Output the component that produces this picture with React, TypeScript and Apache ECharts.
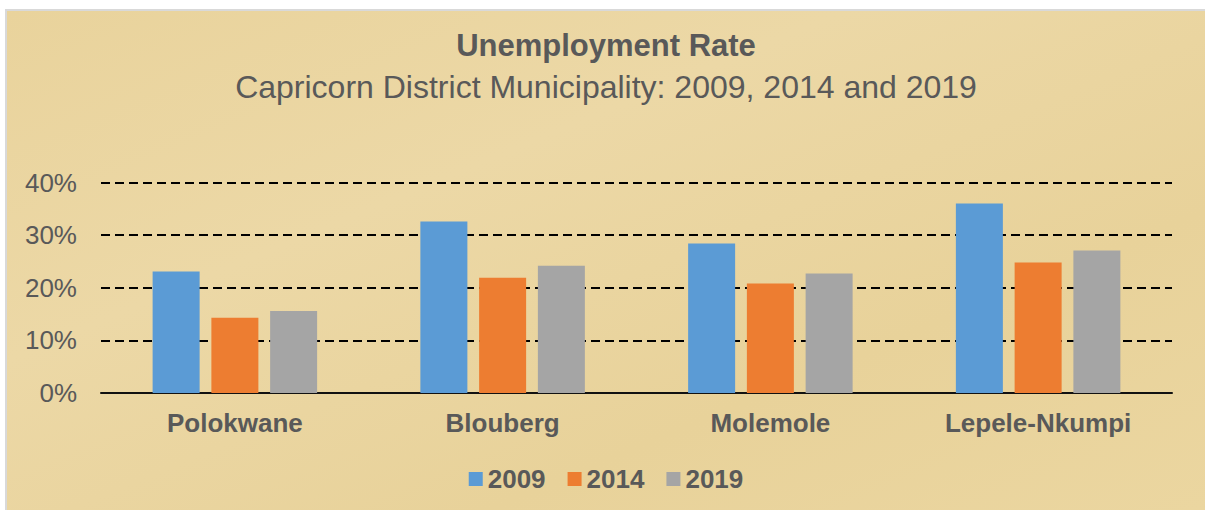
import React, { useEffect, useRef } from "react";
import * as echarts from "echarts";

const categories = ["Polokwane", "Blouberg", "Molemole", "Lepele-Nkumpi"];
const years = ["2009", "2014", "2019"];
const values2009 = [23.1, 32.6, 28.4, 36.0];
const values2014 = [14.3, 21.9, 20.8, 24.8];
const values2019 = [15.6, 24.2, 22.7, 27.1];
const yTicks = { min: 0, max: 40, interval: 10 };

const TEXT = "#595959";
const FONT = "'Liberation Sans', Arial, sans-serif";

export default function App() {
  const ref = useRef<HTMLDivElement>(null);
  useEffect(() => {
    if (!ref.current) return;
    const chart = echarts.init(ref.current, undefined, { renderer: "svg" });
    const seriesData = [values2009, values2014, values2019];
    const colors = ["#5B9BD5", "#ED7D31", "#A5A5A5"];
    chart.setOption({
      animation: false,
      backgroundColor: {
        type: "linear",
        x: 0,
        y: 0,
        x2: 1,
        y2: 1,
        colorStops: [
          { offset: 0, color: "#E9D39C" },
          { offset: 0.35, color: "#ECD8A6" },
          { offset: 0.7, color: "#E8D29A" },
          { offset: 1, color: "#EBD6A0" },
        ],
      },
      textStyle: { fontFamily: FONT },
      title: [
        {
          text: "Unemployment Rate",
          left: "center",
          top: 19,
          padding: 0,
          textStyle: { color: TEXT, fontSize: 31, fontWeight: "bold", fontFamily: FONT, lineHeight: 31 },
        },
        {
          text: "Capricorn District Municipality: 2009, 2014 and 2019",
          left: "center",
          top: 60,
          padding: 0,
          textStyle: { color: TEXT, fontSize: 32, fontWeight: "normal", fontFamily: FONT, lineHeight: 32 },
        },
      ],
      legend: {
        data: years,
        top: 455,
        left: "center",
        padding: 0,
        itemWidth: 14,
        itemHeight: 14,
        itemGap: 22,
        icon: "rect",
        textStyle: { color: TEXT, fontSize: 26, fontWeight: "bold", fontFamily: FONT },
      },
      grid: { left: 94, right: 33, top: 171.5, bottom: 117, containLabel: false },
      xAxis: {
        type: "category",
        data: categories,
        axisLine: { show: true, lineStyle: { color: "#111111", width: 2 } },
        axisTick: { show: false },
        axisLabel: { color: TEXT, fontSize: 26, fontWeight: "bold", fontFamily: FONT, margin: 17 },
        splitLine: { show: false },
      },
      yAxis: {
        type: "value",
        min: yTicks.min,
        max: yTicks.max,
        interval: yTicks.interval,
        axisLine: { show: false },
        axisTick: { show: false },
        axisLabel: { color: TEXT, fontSize: 26, fontFamily: FONT, margin: 24, formatter: "{value}%" },
        splitLine: { show: true, lineStyle: { color: "#000000", width: 2, type: [9, 5] } },
      },
      series: years.map((y, i) => ({
        name: y,
        type: "bar",
        data: seriesData[i],
        barWidth: 47,
        barGap: "25%",
        itemStyle: { color: colors[i] },
      })),
    });
    return () => chart.dispose();
  }, []);
  return (
    <div
      style={{
        position: "absolute",
        left: 5,
        top: 9,
        borderLeft: "2px solid #d9d9d9",
        borderTop: "2px solid #d9d9d9",
      }}
    >
      <div ref={ref} style={{ width: 1198, height: 499 }} />
    </div>
  );
}
